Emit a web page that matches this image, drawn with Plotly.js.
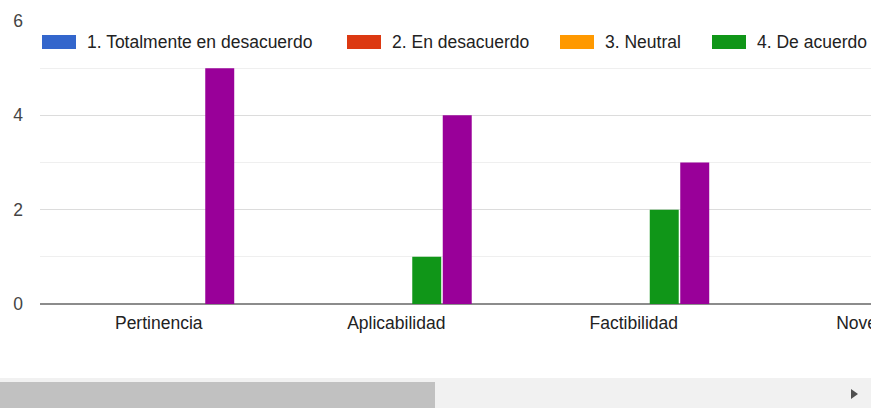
<!DOCTYPE html>
<html>
<head>
<meta charset="utf-8">
<script src="https://cdn.plot.ly/plotly-3.0.1.min.js"></script>
<style>
html,body{margin:0;padding:0;background:#fff;overflow:hidden;}
#wrap{position:relative;width:871px;height:408px;overflow:hidden;}
#chart{position:absolute;left:0;top:0;width:1000px;height:408px;}
#track{position:absolute;left:0;top:378px;width:871px;height:30px;background:#f1f1f1;}
#thumb{position:absolute;left:0;top:382px;width:435px;height:26px;background:#c1c1c1;}
#arrow{position:absolute;left:851px;top:389px;width:0;height:0;border-top:5px solid transparent;border-bottom:5px solid transparent;border-left:7px solid #505050;}
</style>
</head>
<body>
<div id="wrap">
<div id="chart"></div>
<div id="track"></div>
<div id="thumb"></div>
<div id="arrow"></div>
</div>
<script>
const categories = ["Pertinencia", "Aplicabilidad", "Factibilidad", "Novedad"];
const seriesNames = ["1. Totalmente en desacuerdo", "2. En desacuerdo", "3. Neutral", "4. De acuerdo", "5. Totalmente de acuerdo"];
const s1 = [0, 0, 0, 0];
const s2 = [0, 0, 0, 0];
const s3 = [0, 0, 0, 0];
const s4 = [0, 1, 2, 1];
const s5 = [5, 4, 3, 4];
const seriesValues = [s1, s2, s3, s4, s5];
const colors = ["#3366cc", "#dc3912", "#ff9900", "#109618", "#990099"];
const yTicks = [0, 2, 4, 6];

const FONT = "Arial, 'Liberation Sans', sans-serif";
const W = 1000, ML = 40, MR = 10, MT = 21, MB = 104, H = 408;
const PW = W - ML - MR, PH = H - MT - MB;
const px2x = p => (p - ML) / PW;
const py2y = p => (H - MB - p) / PH;

const traces = seriesNames.map((n, i) => ({
  type: "bar", name: n, x: categories, y: seriesValues[i],
  marker: {color: colors[i]}, showlegend: false, hoverinfo: "none"
}));

// custom legend (layout positions)
const legendSwatchX = [42, 347, 560, 712, 1000];
const legendY = 42;
const shapes = [], annotations = [];
seriesNames.forEach((n, i) => {
  const x0 = legendSwatchX[i];
  shapes.push({type: "rect", xref: "paper", yref: "paper",
    x0: px2x(x0), x1: px2x(x0 + 34), y0: py2y(legendY + 7), y1: py2y(legendY - 7),
    fillcolor: colors[i], line: {width: 0}});
  annotations.push({xref: "paper", yref: "paper", x: px2x(x0 + 43), y: py2y(legendY),
    xanchor: "left", yanchor: "middle", showarrow: false, text: n,
    font: {family: FONT, size: 17.5, color: "#222"}});
});

const layout = {
  width: W, height: H,
  margin: {l: ML, r: MR, t: MT, b: MB, pad: 0},
  paper_bgcolor: "#fff", plot_bgcolor: "#fff",
  barmode: "group", bargap: 0.358, bargroupgap: 0.05,
  showlegend: false,
  font: {family: FONT, size: 17.5, color: "#222"},
  xaxis: {range: [-0.5, 3.5], showgrid: false, zeroline: false, showline: false,
    ticks: "", ticklabelstandoff: 6, tickfont: {family: FONT, size: 17.5, color: "#222"}},
  yaxis: {range: [0, 6], tickvals: yTicks, showgrid: true, gridcolor: "#dcdcdc", gridwidth: 1.5,
    minor: {dtick: 1, showgrid: true, gridcolor: "#efefef", gridwidth: 1},
    zeroline: true, zerolinecolor: "#8c8c8c", zerolinewidth: 1.5, showline: false,
    ticks: "", ticklabelstandoff: 16, tickfont: {family: FONT, size: 17.5, color: "#444"}},
  shapes: shapes, annotations: annotations
};

Plotly.newPlot("chart", traces, layout, {staticPlot: true, displayModeBar: false});
</script>
</body>
</html>
